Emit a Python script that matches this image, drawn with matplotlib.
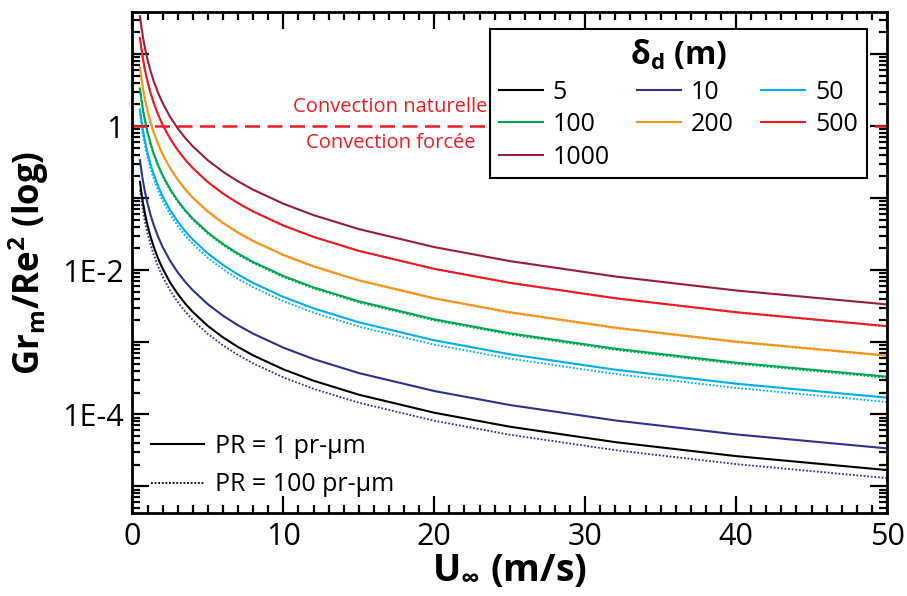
import matplotlib
matplotlib.use("Agg")
import matplotlib.pyplot as plt
from matplotlib.ticker import FixedLocator, LogLocator, MultipleLocator, FuncFormatter
from matplotlib.lines import Line2D

plt.rcParams['font.family'] = ['Open Sans', 'DejaVu Sans']
plt.rcParams['mathtext.fontset'] = 'custom'
plt.rcParams['mathtext.rm'] = 'Open Sans'
plt.rcParams['mathtext.bf'] = 'Open Sans:bold'

# wind speed (m/s) where values were read
U = [0.5, 0.6, 0.7, 0.8, 0.9, 1, 1.2, 1.4, 1.7, 2, 2.5, 3, 3.5, 4, 5, 6, 7, 8,
     10, 12, 15, 20, 25, 32, 40, 50]

# Gr_m / Re^2 for PR = 1 pr-um, one list per delta_d (m)
d5 = [0.168, 0.1167, 0.0857, 0.0656, 0.0519, 0.042, 0.0292, 0.0214, 0.01453, 0.0105,
      0.00672, 0.00467, 0.00343, 0.002625, 0.00168, 0.001167, 0.000857, 0.000656,
      0.00042, 0.000292, 0.0001867, 0.000105, 6.72e-5, 4.10e-5, 2.625e-5, 1.68e-5]
d10 = [0.336, 0.2333, 0.1714, 0.1313, 0.1037, 0.084, 0.0583, 0.0429, 0.02907, 0.021,
       0.01344, 0.00933, 0.00686, 0.00525, 0.00336, 0.002333, 0.001714, 0.001313,
       0.00084, 0.000583, 0.000373, 0.00021, 0.0001344, 8.20e-5, 5.25e-5, 3.36e-5]
d50 = [1.70, 1.181, 0.867, 0.664, 0.525, 0.425, 0.2951, 0.2168, 0.1471, 0.10625,
       0.068, 0.0472, 0.0347, 0.02656, 0.017, 0.01181, 0.00867, 0.00664,
       0.00425, 0.002951, 0.001889, 0.0010625, 0.00068, 0.000415, 0.0002656, 0.00017]
d100 = [3.32, 2.306, 1.694, 1.297, 1.025, 0.83, 0.5764, 0.4235, 0.2872, 0.2075,
        0.1328, 0.0922, 0.06775, 0.05188, 0.0332, 0.02306, 0.01694, 0.01297,
        0.0083, 0.005764, 0.003689, 0.002075, 0.001328, 0.000811, 0.000519, 0.000332]
d200 = [6.52, 4.528, 3.327, 2.547, 2.012, 1.63, 1.132, 0.8316, 0.564, 0.4075,
        0.2608, 0.1811, 0.1331, 0.1019, 0.0652, 0.04528, 0.03327, 0.02547,
        0.0163, 0.01132, 0.007244, 0.004075, 0.002608, 0.001592, 0.001019, 0.000652]
d500 = [16.68, 11.58, 8.511, 6.516, 5.148, 4.17, 2.896, 2.128, 1.443, 1.0425,
        0.6672, 0.4633, 0.3404, 0.2606, 0.1668, 0.1158, 0.08511, 0.06516,
        0.0417, 0.02896, 0.01853, 0.010425, 0.006672, 0.004072, 0.002606, 0.001668]
d1000 = [33.4, 23.19, 17.04, 13.05, 10.31, 8.35, 5.798, 4.26, 2.889, 2.0875,
         1.336, 0.9278, 0.6816, 0.5219, 0.334, 0.2319, 0.1704, 0.1305,
         0.0835, 0.05798, 0.03711, 0.020875, 0.01336, 0.008155, 0.005219, 0.00334]

# PR = 100 pr-um (dotted)
p10 = [0.13, 0.0903, 0.0663, 0.0508, 0.0401, 0.0325, 0.02257, 0.01658, 0.01125, 0.008125,
       0.0052, 0.003611, 0.002653, 0.002031, 0.0013, 0.000903, 0.000663, 0.000508,
       0.000325, 0.0002257, 0.0001444, 8.125e-5, 5.2e-5, 3.174e-5, 2.031e-5, 1.3e-5]
p50 = [1.48, 1.028, 0.7552, 0.5781, 0.4568, 0.37, 0.2569, 0.1888, 0.128, 0.0925,
       0.0592, 0.04111, 0.0302, 0.02313, 0.0148, 0.01028, 0.007552, 0.005781,
       0.0037, 0.002569, 0.001644, 0.000925, 0.000592, 0.0003613, 0.0002313, 0.000148]
p100 = [3.2, 2.222, 1.633, 1.25, 0.9877, 0.8, 0.5555, 0.4082, 0.2768, 0.2,
        0.128, 0.08888, 0.0653, 0.05, 0.032, 0.02222, 0.01633, 0.0125,
        0.008, 0.005555, 0.003555, 0.002, 0.00128, 0.000781, 0.0005, 0.00032]
p200 = [6.4, 4.445, 3.266, 2.5, 1.975, 1.6, 1.111, 0.8163, 0.5536, 0.4,
        0.256, 0.1778, 0.1306, 0.1, 0.064, 0.04445, 0.03266, 0.025,
        0.016, 0.01111, 0.00711, 0.004, 0.00256, 0.001563, 0.001, 0.00064]
p500 = [16.6, 11.53, 8.47, 6.484, 5.124, 4.15, 2.882, 2.117, 1.436, 1.0375,
        0.664, 0.4611, 0.3388, 0.2594, 0.166, 0.1153, 0.0847, 0.06484,
        0.0415, 0.02882, 0.01844, 0.010375, 0.00664, 0.004053, 0.002594, 0.00166]

labels = ['5', '10', '50', '100', '200', '500', '1000']
colors = ['#000000', '#2e3192', '#00aeef', '#00a651', '#f7941d', '#ed1c24', '#9b1d3a']
solid = [d5, d10, d50, d100, d200, d500, d1000]
dotted = [(p10, '#2e3192'), (p50, '#00aeef'), (p100, '#00a651'),
          (p200, '#f7941d'), (p500, '#ed1c24')]

fig = plt.figure(figsize=(9.07, 5.96), dpi=100)
ax = fig.add_axes([0.146, 0.1385, 0.832, 0.8415])

for ys, c in dotted:
    ax.plot(U, ys, color=c, lw=1.3, linestyle=(0, (1, 1)))
handles = []
for ys, c, lab in zip(solid, colors, labels):
    h, = ax.plot(U, ys, color=c, lw=1.5, label=lab)
    handles.append(h)

ax.axhline(1, color='#ed1c24', lw=1.8, linestyle=(0, (6, 3)))
ax.text(17.1, 1.84, 'Convection naturelle', color='#ed1c24', fontsize=14.5,
        ha='center', va='center')
ax.text(17.1, 0.58, 'Convection forcée', color='#ed1c24', fontsize=14.5,
        ha='center', va='center')

ax.set_yscale('log')
ax.set_xlim(0, 50)
ax.set_ylim(4.2e-6, 38.3)

ax.xaxis.set_major_locator(MultipleLocator(10))
ax.xaxis.set_minor_locator(MultipleLocator(1))
ax.yaxis.set_major_locator(FixedLocator([1e-5, 1e-4, 1e-3, 1e-2, 1e-1, 1, 10]))
ax.yaxis.set_minor_locator(LogLocator(base=10, subs=range(2, 10), numticks=20))
names = {1e-4: '1E-4', 1e-2: '1E-2', 1.0: '1'}
ax.yaxis.set_major_formatter(FuncFormatter(
    lambda v, p: next((t for k, t in names.items() if abs(v / k - 1) < 1e-6), '')))
ax.yaxis.set_minor_formatter(FuncFormatter(lambda v, p: ''))

ax.tick_params(which='both', direction='in', top=True, right=True, width=1.6,
               labelsize=22, pad=6)
ax.tick_params(which='major', length=12)
ax.tick_params(which='minor', length=6)
for s in ax.spines.values():
    s.set_linewidth(2)

ax.set_xlabel('U$_\\mathbf{\\infty}$ (m/s)', fontsize=27, fontweight='bold', labelpad=0)
ax.set_ylabel('Gr$_\\mathbf{m}$/Re$^\\mathbf{2}$ (log)', fontsize=25,
              fontweight='bold', labelpad=8)

order = [0, 3, 6, 1, 4, 2, 5]
leg = ax.legend([handles[i] for i in order], [labels[i] for i in order], ncol=3,
                loc='upper right', bbox_to_anchor=(0.973, 0.966), fontsize=18,
                title='δ$_\\mathbf{d}$ (m)', title_fontproperties={'size': 23, 'weight': 'bold'},
                fancybox=False, edgecolor='black', framealpha=1,
                handlelength=1.75, handletextpad=0.4, columnspacing=1.1,
                labelspacing=0.3, borderpad=0.35, borderaxespad=0)
leg.get_frame().set_linewidth(1.5)
ax.add_artist(leg)

pr = [Line2D([], [], color='black', lw=1.5),
      Line2D([], [], color='black', lw=1.3, linestyle=(0, (1, 1)))]
ax.legend(pr, ['PR = 1 pr-µm', 'PR = 100 pr-µm'], loc='lower left',
          bbox_to_anchor=(0.012, 0.012), frameon=False, fontsize=18,
          handlelength=2.1, handletextpad=0.45, labelspacing=0.55, borderaxespad=0)

fig.savefig('out.png', dpi=100)
